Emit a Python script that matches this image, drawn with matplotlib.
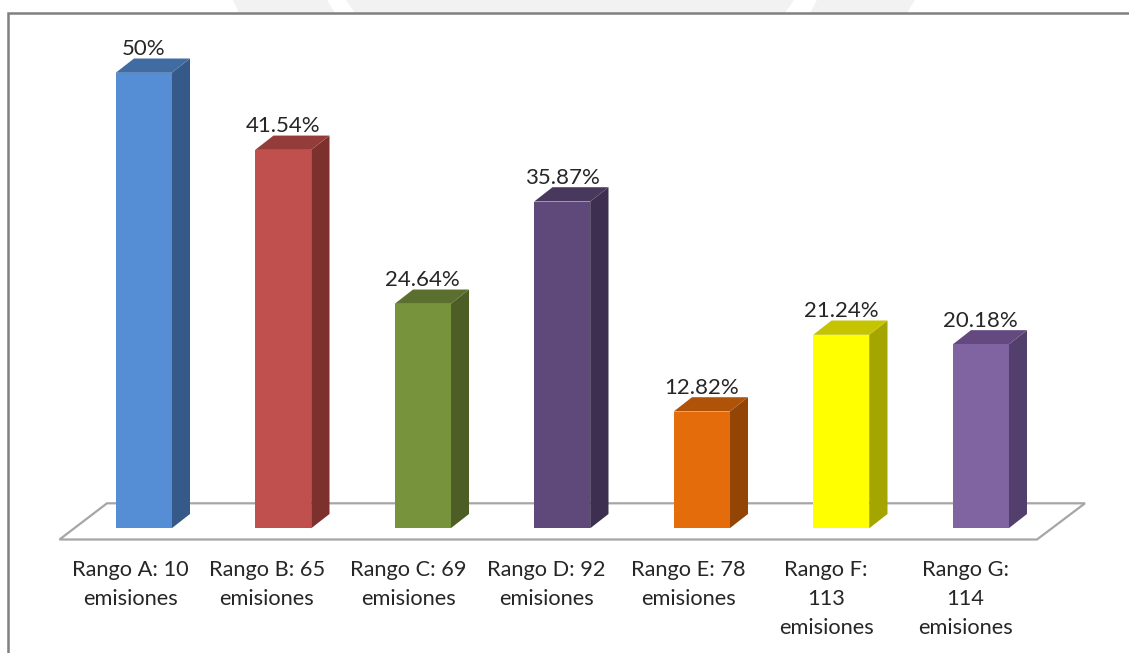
import matplotlib
matplotlib.use("Agg")
import matplotlib.pyplot as plt
from matplotlib.patches import Polygon

labels = ["Rango A: 10\nemisiones", "Rango B: 65\nemisiones", "Rango C: 69\nemisiones",
          "Rango D: 92\nemisiones", "Rango E: 78\nemisiones", "Rango F:\n113\nemisiones",
          "Rango G:\n114\nemisiones"]
values = [50, 41.54, 24.64, 35.87, 12.82, 21.24, 20.18]
value_text = ["50%", "41.54%", "24.64%", "35.87%", "12.82%", "21.24%", "20.18%"]
front_colors = ["#558ED5", "#C0504D", "#77933C", "#5F497A", "#E46C0A", "#FFFF00", "#8064A2"]
top_colors = ["#406CA3", "#943C39", "#5B702E", "#49385E", "#AF5308", "#C4C400", "#63497F"]
side_colors = ["#355A8A", "#7C312F", "#4C5E26", "#3D2F4F", "#934506", "#A5A500", "#533F6C"]

W, H = 1129, 653
PX_PER_UNIT = 9.11     # vertical pixels per percentage point
PX_PER_CAT = 139.5     # horizontal pixels between categories
X0, Y0 = 143.7, 528.3  # pixel position of the first category at the baseline

# horizontal centres of the category labels, in pixels
LABEL_CENTRES = [130, 266.7, 408, 546.5, 688, 826, 965.5]

plt.rcParams["font.family"] = ["Lato", "DejaVu Sans"]
fig = plt.figure(figsize=(W / 100, H / 100), dpi=100, facecolor="white")
ax = fig.add_axes([0, 0, 1, 1])
ax.set_xlim(-X0 / PX_PER_CAT, (W - X0) / PX_PER_CAT)
ax.set_ylim((Y0 - H) / PX_PER_UNIT, Y0 / PX_PER_UNIT)
ax.axis("off")

half = 28 / PX_PER_CAT        # half the front-face width
dx = 18.3 / PX_PER_CAT        # depth offset of the box, horizontal
dy = 14.3 / PX_PER_UNIT       # depth offset of the box, vertical


def xp(px):
    return (px - X0) / PX_PER_CAT


def yp(py):
    return (Y0 - py) / PX_PER_UNIT


# pale backdrop shapes above the frame's top edge
for pts in ([(233, 0), (327, 0), (335, 13), (239, 13)],
            [(346, 0), (794, 0), (785, 13), (355, 13)],
            [(817, 0), (915, 0), (907, 13), (810, 13)]):
    ax.add_patch(Polygon([(xp(a), yp(b)) for a, b in pts], closed=True,
                         fc="#F2F2F2", ec="none", zorder=0))

# chart frame: only the left and top edges are visible
ax.plot([xp(8.3), xp(8.3), xp(W)], [yp(H), yp(13.3), yp(13.3)], color="#808080", lw=1.8,
        solid_joinstyle="miter", zorder=1)

# chart floor
floor = [(59.5, 539.5), (1037, 539.5), (1085, 503.3), (107, 503.3)]
ax.add_patch(Polygon([(xp(a), yp(b)) for a, b in floor], closed=True,
                     fc="white", ec="#A6A6A6", lw=1.6, zorder=2))

for i, v in enumerate(values):
    l, r = i - half, i + half
    ax.add_patch(Polygon([(r, 0), (r + dx, dy), (r + dx, v + dy), (r, v)], closed=True,
                         fc=side_colors[i], ec="none", zorder=3))
    ax.add_patch(Polygon([(l, v), (r, v), (r + dx, v + dy), (l + dx, v + dy)], closed=True,
                         fc=top_colors[i], ec="none", zorder=3))
    ax.bar(i, v, width=2 * half, color=front_colors[i], zorder=4)
    ax.text(i, v + dy + 0.35, value_text[i], ha="center", va="baseline",
            fontsize=16.0, color="#262626", zorder=5)
    ax.text(xp(LABEL_CENTRES[i]), yp(559.5), labels[i], ha="center", va="top", fontsize=15.7,
            color="#262626", linespacing=1.58, zorder=5)

fig.savefig("out.png", dpi=100, facecolor="white")
